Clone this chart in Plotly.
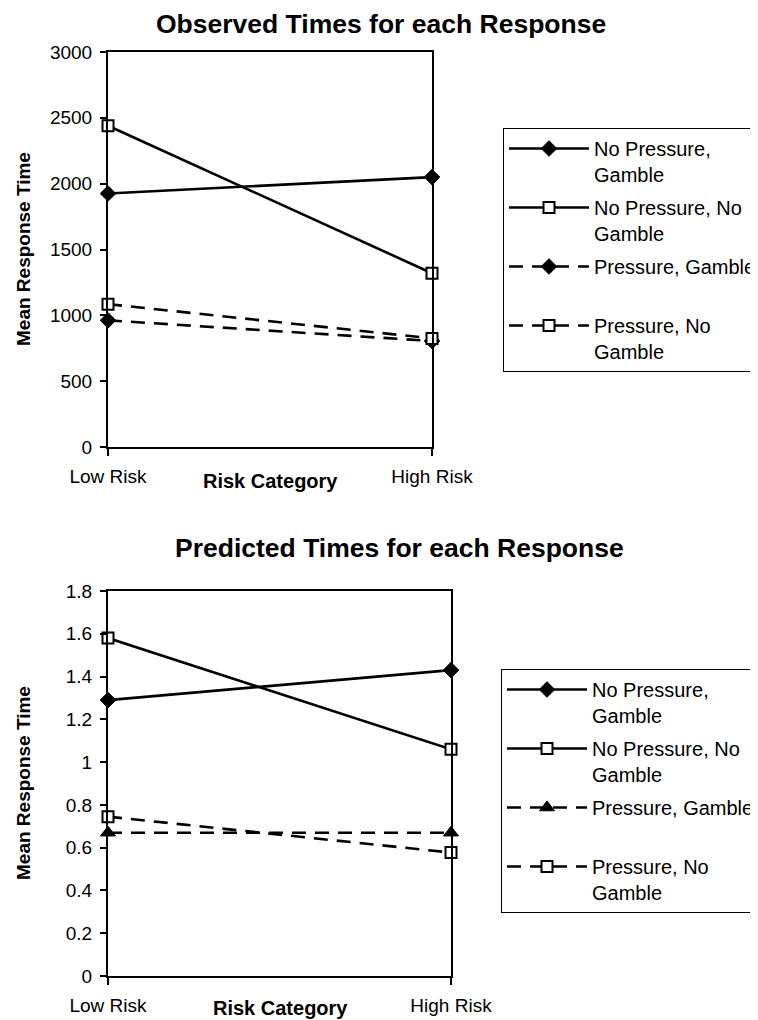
import plotly.graph_objects as go

# ---------------- data ----------------
categories = ["Low Risk", "High Risk"]
series_names = ["No Pressure,<br>Gamble", "No Pressure, No<br>Gamble",
                "Pressure, Gamble<br> ", "Pressure, No<br>Gamble"]

observed_np_gamble = [1925, 2050]
observed_np_nogamble = [2440, 1320]
observed_p_gamble = [962, 805]
observed_p_nogamble = [1085, 825]

predicted_np_gamble = [1.29, 1.43]
predicted_np_nogamble = [1.58, 1.06]
predicted_p_gamble = [0.67, 0.67]
predicted_p_nogamble = [0.745, 0.577]

observed_yticks = [0, 500, 1000, 1500, 2000, 2500, 3000]
predicted_yticks = [0, 0.2, 0.4, 0.6, 0.8, 1.0, 1.2, 1.4, 1.6, 1.8]
predicted_yticklabels = ["0", "0.2", "0.4", "0.6", "0.8", "1", "1.2", "1.4", "1.6", "1.8"]

titles = ["Observed Times for each Response", "Predicted Times for each Response"]
x_title = "Risk Category"
y_title = "Mean Response Time"

# ---------------- layout helpers ----------------
# The page body has an 8px default margin, so the figure is drawn 8px in
# from the top-left corner of the window; positions below are window pixels.
OFF = 8
W, H = 758 - OFF, 1020 - OFF
FONT = "Liberation Sans, Arial, sans-serif"


def px_x(v):
    return (v - OFF) / W


def px_y(v):
    return 1 - (v - OFF) / H


top_box = dict(l=108, r=432, t=52, b=447)
bot_box = dict(l=108, r=451, t=591, b=976)

fig = go.Figure()

solid = dict(color="black", width=2.6)
dashed = dict(color="black", width=2.6, dash="14px,9px")
diamond = dict(symbol="diamond", size=12, color="black", line=dict(color="black", width=1))
square = dict(symbol="square", size=11, color="white", line=dict(color="black", width=2))
triangle = dict(symbol="triangle-up", size=13, color="black", line=dict(color="black", width=1))

top_series = [
    (observed_np_gamble, solid, diamond),
    (observed_np_nogamble, solid, square),
    (observed_p_gamble, dashed, diamond),
    (observed_p_nogamble, dashed, square),
]
bot_series = [
    (predicted_np_gamble, solid, diamond),
    (predicted_np_nogamble, solid, square),
    (predicted_p_gamble, dashed, triangle),
    (predicted_p_nogamble, dashed, square),
]

for i, (vals, ln, mk) in enumerate(top_series):
    fig.add_trace(go.Scatter(
        x=categories, y=vals, name=series_names[i], mode="lines+markers",
        line=ln, marker=mk, xaxis="x", yaxis="y", legend="legend",
        legendgroup="a%d" % i, cliponaxis=False))

for i, (vals, ln, mk) in enumerate(bot_series):
    fig.add_trace(go.Scatter(
        x=categories, y=vals, name=series_names[i], mode="lines+markers",
        line=ln, marker=mk, xaxis="x2", yaxis="y2", legend="legend2",
        legendgroup="b%d" % i, cliponaxis=False))

tickfont = dict(family=FONT, size=19, color="black")

common_x = dict(type="category", range=[0, 1], showline=True, mirror=True,
                linecolor="black", linewidth=2, ticks="outside", ticklen=7,
                tickwidth=1.5, tickcolor="black", showgrid=False, zeroline=False,
                tickfont=tickfont, ticklabelstandoff=4, fixedrange=True,
                automargin=False)
common_y = dict(showline=True, mirror=True, linecolor="black", linewidth=2,
                ticks="outside", ticklen=6, tickwidth=1.5, tickcolor="black",
                showgrid=False, zeroline=False, tickfont=tickfont, fixedrange=True,
                automargin=False, ticklabelstandoff=4)
inner_y = dict(side="left", showline=False, ticks="inside", ticklen=6, tickwidth=1.5,
               tickcolor="black", showticklabels=False, showgrid=False, zeroline=False,
               fixedrange=True, automargin=False)

legend_common = dict(
    font=dict(family=FONT, size=20, color="black"),
    bordercolor="black", borderwidth=1, bgcolor="white",
    xref="container", yref="container",
    xanchor="left", yanchor="top", tracegroupgap=4, itemwidth=80,
    valign="top", itemclick=False, itemdoubleclick=False)

fig.update_layout(
    width=W, height=H, autosize=False,
    margin=dict(l=0, r=0, t=0, b=0, pad=0, autoexpand=False),
    paper_bgcolor="white", plot_bgcolor="white",
    showlegend=True,
    xaxis=dict(common_x, domain=[px_x(top_box["l"]), px_x(top_box["r"])], anchor="y"),
    yaxis=dict(common_y, domain=[px_y(top_box["b"]), px_y(top_box["t"])], anchor="x",
               range=[observed_yticks[0], observed_yticks[-1]], tickvals=observed_yticks),
    yaxis3=dict(inner_y, overlaying="y", anchor="x",
                range=[observed_yticks[0], observed_yticks[-1]], tickvals=observed_yticks),
    xaxis2=dict(common_x, domain=[px_x(bot_box["l"]), px_x(bot_box["r"])], anchor="y2"),
    yaxis2=dict(common_y, domain=[px_y(bot_box["b"]), px_y(bot_box["t"])], anchor="x2",
                range=[predicted_yticks[0], predicted_yticks[-1]], tickvals=predicted_yticks,
                ticktext=predicted_yticklabels),
    yaxis4=dict(inner_y, overlaying="y2", anchor="x2",
                range=[predicted_yticks[0], predicted_yticks[-1]], tickvals=predicted_yticks),
    legend=dict(legend_common, x=px_x(503), y=px_y(128)),
    legend2=dict(legend_common, x=px_x(501), y=px_y(669)),
)

ann = []
# titles
ann.append(dict(text="<b>%s</b>" % titles[0], x=px_x(381), y=px_y(24), xref="paper", yref="paper",
                showarrow=False, font=dict(family=FONT, size=26.5, color="black"),
                xanchor="center", yanchor="middle"))
ann.append(dict(text="<b>%s</b>" % titles[1], x=px_x(399), y=px_y(548), xref="paper", yref="paper",
                showarrow=False, font=dict(family=FONT, size=26.5, color="black"),
                xanchor="center", yanchor="middle"))
# x axis titles
for cx, cy in [(270, 481), (280, 1008)]:
    ann.append(dict(text="<b>%s</b>" % x_title, x=px_x(cx), y=px_y(cy), xref="paper", yref="paper",
                    showarrow=False, font=dict(family=FONT, size=20, color="black"),
                    xanchor="center", yanchor="middle"))
# y axis titles
for cx, cy in [(23, 249), (23, 783)]:
    ann.append(dict(text="<b>%s</b>" % y_title, x=px_x(cx), y=px_y(cy), xref="paper", yref="paper",
                    showarrow=False, textangle=-90, font=dict(family=FONT, size=19, color="black"),
                    xanchor="center", yanchor="middle"))
fig.update_layout(annotations=ann)

fig.write_html("out.html")
